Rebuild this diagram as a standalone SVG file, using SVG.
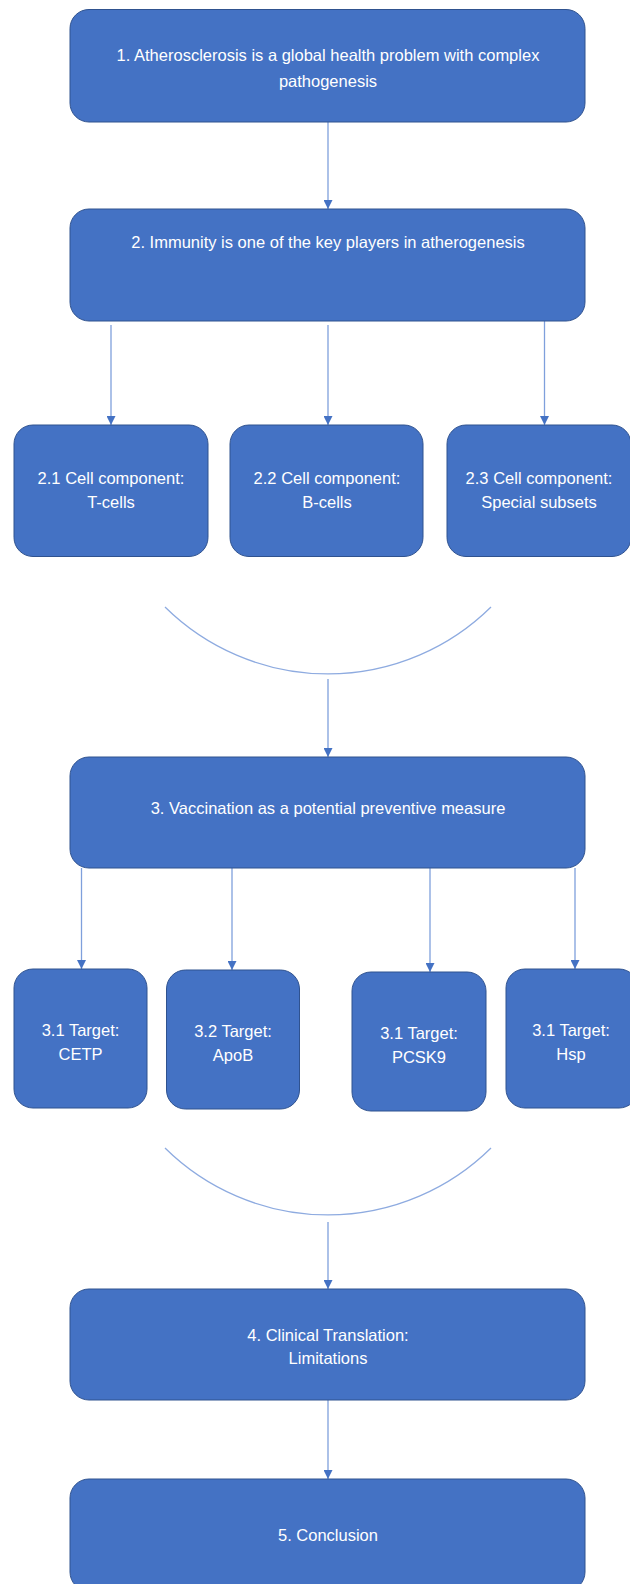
<svg xmlns="http://www.w3.org/2000/svg" width="630" height="1584" viewBox="0 0 630 1584">
<style>
.box{fill:#4472C4;stroke:#2F528F;stroke-width:1}
.lbl{font-family:"Liberation Sans",Arial,sans-serif;font-size:16.5px;fill:#FFFFFF;text-anchor:middle}
.conn{stroke:#7FA0DC;stroke-width:1.3;fill:none}
.arc{stroke:#8EABE0;stroke-width:1.3;fill:none}
</style>
<defs>
<marker id="ah" markerUnits="userSpaceOnUse" markerWidth="9" markerHeight="9" viewBox="0 0 9 9" refX="9" refY="4.5" orient="auto">
<path d="M0,0 L9,4.5 L0,9 z" fill="#4472C4"/>
</marker>
</defs>
<rect width="630" height="1584" fill="#FFFFFF"/>
<g id="connectors">
<line class="conn" x1="328" y1="122" x2="328" y2="209" marker-end="url(#ah)"/>
<line class="conn" x1="111" y1="325" x2="111" y2="425" marker-end="url(#ah)"/>
<line class="conn" x1="328" y1="325" x2="328" y2="425" marker-end="url(#ah)"/>
<line class="conn" x1="544.5" y1="321" x2="544.5" y2="425" marker-end="url(#ah)"/>
<path class="arc" d="M165,607 A232,232 0 0 0 491,607"/>
<line class="conn" x1="328" y1="679" x2="328" y2="757" marker-end="url(#ah)"/>
<line class="conn" x1="81.5" y1="868" x2="81.5" y2="969" marker-end="url(#ah)"/>
<line class="conn" x1="232" y1="868" x2="232" y2="970" marker-end="url(#ah)"/>
<line class="conn" x1="430" y1="868" x2="430" y2="972" marker-end="url(#ah)"/>
<line class="conn" x1="575" y1="868" x2="575" y2="969" marker-end="url(#ah)"/>
<path class="arc" d="M165,1148 A232,232 0 0 0 491,1148"/>
<line class="conn" x1="328" y1="1222" x2="328" y2="1289" marker-end="url(#ah)"/>
<line class="conn" x1="328" y1="1400" x2="328" y2="1479" marker-end="url(#ah)"/>
</g>
<g id="n1">
<rect class="box" x="70" y="9.5" width="515" height="112.5" rx="19"/>
<text class="lbl" x="328" y="61">1. Atherosclerosis is a global health problem with complex</text>
<text class="lbl" x="328" y="86.5">pathogenesis</text>
</g>
<g id="n2">
<rect class="box" x="70" y="209" width="515" height="112" rx="19"/>
<text class="lbl" x="328" y="248">2. Immunity is one of the key players in atherogenesis</text>
</g>
<g id="n21">
<rect class="box" x="14" y="425" width="194" height="131.5" rx="19"/>
<text class="lbl" x="111" y="484">2.1 Cell component:</text>
<text class="lbl" x="111" y="507.5">T-cells</text>
</g>
<g id="n22">
<rect class="box" x="230" y="425" width="193" height="131.5" rx="19"/>
<text class="lbl" x="327" y="484">2.2 Cell component:</text>
<text class="lbl" x="327" y="507.5">B-cells</text>
</g>
<g id="n23">
<rect class="box" x="447" y="425" width="184" height="131.5" rx="19"/>
<text class="lbl" x="539" y="484">2.3 Cell component:</text>
<text class="lbl" x="539" y="507.5">Special subsets</text>
</g>
<g id="n3">
<rect class="box" x="70" y="757" width="515" height="111" rx="19"/>
<text class="lbl" x="328" y="814">3. Vaccination as a potential preventive measure</text>
</g>
<g id="n31">
<rect class="box" x="14" y="969" width="133" height="139" rx="19"/>
<text class="lbl" x="80.5" y="1036">3.1 Target:</text>
<text class="lbl" x="80.5" y="1060">CETP</text>
</g>
<g id="n32">
<rect class="box" x="166.5" y="970" width="133" height="139" rx="19"/>
<text class="lbl" x="233" y="1037">3.2 Target:</text>
<text class="lbl" x="233" y="1061">ApoB</text>
</g>
<g id="n33">
<rect class="box" x="352" y="972" width="134" height="139" rx="19"/>
<text class="lbl" x="419" y="1039">3.1 Target:</text>
<text class="lbl" x="419" y="1063">PCSK9</text>
</g>
<g id="n34">
<rect class="box" x="506" y="969" width="132" height="139" rx="19"/>
<text class="lbl" x="571" y="1036">3.1 Target:</text>
<text class="lbl" x="571" y="1060">Hsp</text>
</g>
<g id="n4">
<rect class="box" x="70" y="1289" width="515" height="111" rx="19"/>
<text class="lbl" x="328" y="1341">4. Clinical Translation:</text>
<text class="lbl" x="328" y="1363.5">Limitations</text>
</g>
<g id="n5">
<rect class="box" x="70" y="1479" width="515" height="112" rx="19"/>
<text class="lbl" x="328" y="1540.5">5. Conclusion</text>
</g>
</svg>
